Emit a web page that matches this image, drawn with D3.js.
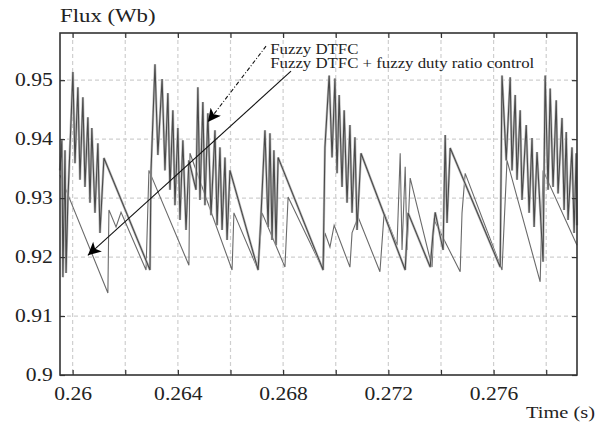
<!DOCTYPE html>
<html><head><meta charset="utf-8">
<script src="https://cdn.jsdelivr.net/npm/d3@7/dist/d3.min.js"></script>
<style>body{margin:0;background:#fff}svg{display:block}</style>
</head><body>
<svg id="c" width="596" height="425"></svg>
<script>
// ---- data ----
const xTicks = [0.26,0.262,0.264,0.266,0.268,0.270,0.272,0.274,0.276,0.278];
const xTickLabels = ["0.26","","0.264","","0.268","","0.272","","0.276",""];
const yTicks = [0.90,0.91,0.92,0.93,0.94,0.95];
const yTickLabels = ["0.9","0.91","0.92","0.93","0.94","0.95"];
const seriesNames = ["Fuzzy DTFC","Fuzzy DTFC + fuzzy duty ratio control"];
// Fuzzy DTFC
const timeB = [0.25952,0.25959,0.25963,0.25971,0.25975,0.25982,0.25994,0.26001,0.26009,0.26020,0.26028,0.26039,0.26047,0.26058,0.26066,0.26073,0.26085,0.26096,0.26104,0.26119,
0.26294,0.26298,0.26313,0.26324,0.26340,0.26351,0.26362,0.26370,0.26381,0.26389,0.26400,0.26408,0.26419,0.26431,0.26442,0.26469,
0.26476,0.26484,0.26495,0.26503,0.26514,0.26526,0.26541,0.26549,0.26560,0.26568,0.26579,0.26587,0.26598,
0.26705,0.26716,0.26731,0.26743,0.26750,0.26758,0.26765,0.26773,0.26781,
0.26952,0.26959,0.26975,0.26986,0.26997,0.27005,0.27013,0.27024,0.27032,0.27043,0.27054,0.27062,0.27073,0.27081,0.27096,
0.27264,0.27275,0.27359,0.27370,0.27378,0.27408,0.27416,0.27423,0.27435,
0.27625,0.27632,0.27648,0.27663,0.27670,0.27682,0.27689,0.27701,0.27708,0.27724,0.27735,0.27746,0.27754,0.27765,0.27788,
0.27796,0.27807,0.27815,0.27826,0.27838,0.27845,0.27860,0.27868,0.27876,0.27883,0.27898,0.27906,0.27914,0.27917];
const fluxB = [0.9347,0.9398,0.9166,0.9381,0.9173,0.9297,0.9432,0.9514,0.9359,0.9488,0.9331,0.9471,0.9319,0.9437,0.9292,0.9419,0.9275,0.9393,0.9241,0.9368,
0.9178,0.9347,0.9527,0.9373,0.9502,0.9347,0.9478,0.9314,0.9449,0.9288,0.9419,0.9263,0.9398,0.9246,0.9364,0.9314,
0.9488,0.9297,0.9463,0.9288,0.9444,0.9271,0.9415,0.9254,0.9386,0.9246,0.9369,0.9229,0.9347,
0.9178,0.9271,0.9415,0.9251,0.9410,0.9229,0.9381,0.9220,0.9369,
0.9178,0.9386,0.9508,0.9369,0.9503,0.9342,0.9475,0.9319,0.9449,0.9292,0.9424,0.9275,0.9403,0.9246,0.9376,
0.9178,0.9275,0.9183,0.9241,0.9276,0.9212,0.9407,0.9258,0.9385,
0.9183,0.9508,0.9364,0.9505,0.9347,0.9475,0.9331,0.9449,0.9297,0.9424,0.9275,0.9402,0.9251,0.9378,0.9192,
0.9508,0.9314,0.9486,0.9319,0.9466,0.9308,0.9436,0.9280,0.9412,0.9263,0.9386,0.9241,0.9376,0.9254];
// Fuzzy DTFC + fuzzy duty ratio control
const timeA = [0.25952,0.26134,0.26138,0.26165,0.26184,0.26279,0.26290,0.26442,0.26446,0.26606,0.26613,0.26705,0.26720,0.26807,0.26819,
0.26952,0.26959,0.26978,0.26994,0.27054,0.27062,0.27085,0.27168,0.27184,0.27233,0.27245,0.27252,0.27264,0.27271,0.27283,
0.27366,0.27374,0.27473,0.27480,0.27492,0.27632,0.27651,0.27777,0.27788,0.27917];
const fluxA = [0.9339,0.9139,0.9280,0.9251,0.9276,0.9178,0.9347,0.9186,0.9376,0.9178,0.9275,0.9178,0.9275,0.9183,0.9302,
0.9178,0.9241,0.9217,0.9254,0.9183,0.9241,0.9268,0.9175,0.9275,0.9220,0.9376,0.9212,0.9353,0.9212,0.9334,
0.9183,0.9263,0.9175,0.9275,0.9342,0.9178,0.9364,0.9158,0.9347,0.9220];
// annotation anchors (data units): [tailT, tailF, tipT, tipF]
const arrowB = [0.26735,0.95576,0.26514,0.9429];
const arrowA = [0.26830,0.95153,0.26058,0.9203];
const labelPos = [[0.26751,0.9544],[0.26751,0.9520]];

// ---- chart ----
const svg = d3.select("#c");
const L=60,R=577,T=33,B=375;
const x = d3.scaleLinear().domain([0.25952,0.27917]).range([L,R]);
const y = d3.scaleLinear().domain([0.9,0.958]).range([B,T]);
const FONT = "'Liberation Serif','Times New Roman',serif";
const SX = 1.2;

// grid
const g = svg.append("g");
g.selectAll(".gx").data(xTicks).join("line")
  .attr("x1",d=>x(d)).attr("x2",d=>x(d)).attr("y1",T).attr("y2",B)
  .attr("stroke","#cfcfcf").attr("stroke-dasharray","4,3").attr("stroke-width",1.2);
g.selectAll(".gy").data(yTicks.slice(1)).join("line")
  .attr("x1",L).attr("x2",R).attr("y1",d=>y(d)).attr("y2",d=>y(d))
  .attr("stroke","#cfcfcf").attr("stroke-dasharray","4,3").attr("stroke-width",1.2);

// series
const line = d3.line().x(d=>x(d[0])).y(d=>y(d[1]));
const dA = timeA.map((t,i)=>[t,fluxA[i]]);
const dB = timeB.map((t,i)=>[t,fluxB[i]]);
svg.append("path").attr("d",line(dA)).attr("fill","none").attr("stroke","#6a6a6a").attr("stroke-width",1.1);
svg.append("path").attr("d",line(dB)).attr("fill","none").attr("stroke","#bdbdbd").attr("stroke-width",2.4);
svg.append("path").attr("d",line(dB)).attr("fill","none").attr("stroke","#4a4a4a").attr("stroke-width",1.1);

// axes
function styleAxis(sel){
  sel.select(".domain").remove();
  sel.selectAll(".tick line").attr("stroke","#333").attr("stroke-width",1.2);
  sel.selectAll(".tick text").attr("font-family",FONT).attr("font-size",18).attr("fill","#222")
    .attr("transform",`scale(${SX},1)`);
}
svg.append("g").attr("transform",`translate(0,${B})`)
  .call(d3.axisBottom(x).tickValues(xTicks).tickSize(-5).tickPadding(12).tickFormat((d,i)=>xTickLabels[i]))
  .call(styleAxis);
svg.append("g").attr("transform",`translate(0,${T})`)
  .call(d3.axisTop(x).tickValues(xTicks).tickSize(-5).tickFormat(""))
  .call(styleAxis);
svg.append("g").attr("transform",`translate(${L},0)`)
  .call(d3.axisLeft(y).tickValues(yTicks).tickSize(-5).tickPadding(6).tickFormat((d,i)=>yTickLabels[i]))
  .call(styleAxis);
svg.append("g").attr("transform",`translate(${R},0)`)
  .call(d3.axisRight(y).tickValues(yTicks).tickSize(-5).tickFormat(""))
  .call(styleAxis);

// frame
svg.append("rect").attr("x",L).attr("y",T).attr("width",R-L).attr("height",B-T)
  .attr("fill","none").attr("stroke","#333").attr("stroke-width",1.6);

// titles
function stext(px,py,str,size,anchor){
  return svg.append("text").attr("transform",`translate(${px},${py}) scale(${SX},1)`)
    .attr("font-family",FONT).attr("font-size",size).attr("fill","#222")
    .attr("text-anchor",anchor||"start").text(str);
}
stext(L,22,"Flux (Wb)",19);
stext(595,418,"Time (s)",17,"end");

// annotations
const defs = svg.append("defs");
defs.append("marker").attr("id","ah").attr("viewBox","0 0 10 10").attr("refX",10).attr("refY",5)
  .attr("markerWidth",18).attr("markerHeight",13).attr("markerUnits","userSpaceOnUse").attr("orient","auto")
  .append("path").attr("d","M0,0 L10,5 L0,10 L2.5,5 Z").attr("fill","#000");
svg.append("line").attr("x1",x(arrowB[0])).attr("y1",y(arrowB[1])).attr("x2",x(arrowB[2])).attr("y2",y(arrowB[3]))
  .attr("stroke","#111").attr("stroke-width",1.1).attr("stroke-dasharray","4,2,1,2").attr("marker-end","url(#ah)");
svg.append("line").attr("x1",x(arrowA[0])).attr("y1",y(arrowA[1])).attr("x2",x(arrowA[2])).attr("y2",y(arrowA[3]))
  .attr("stroke","#111").attr("stroke-width",1.1).attr("marker-end","url(#ah)");
seriesNames.forEach((n,i)=>stext(x(labelPos[i][0]),y(labelPos[i][1]),n,14));
</script>
</body></html>
